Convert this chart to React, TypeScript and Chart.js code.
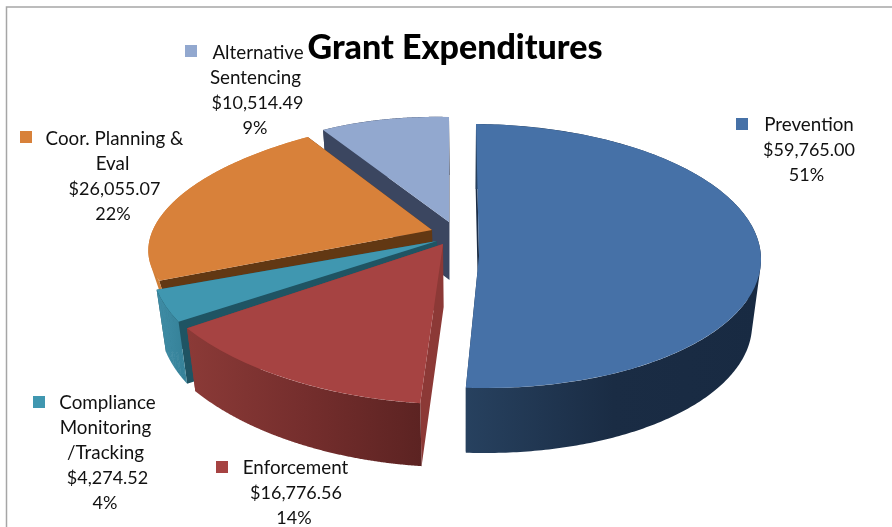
import React, { useEffect, useRef } from "react";
import { Chart, registerables } from "chart.js";

Chart.register(...registerables);

const categories = ["Prevention", "Enforcement", "Compliance Monitoring /Tracking", "Coor. Planning & Eval", "Alternative Sentencing"];
const values = [59765.0, 16776.56, 4274.52, 26055.07, 10514.49];
const valueLabels = ["$59,765.00", "$16,776.56", "$4,274.52", "$26,055.07", "$10,514.49"];
const percentLabels = ["51%", "14%", "4%", "22%", "9%"];
const titleText = "Grant Expenditures";

const topColors = ["#4671A7", "#A64342", "#4097B0", "#D8813A", "#92A8CF"];
const wallColors = ["#1B2D46", "#8C3936", "#1F5463", "#623813", "#3B4660"];
const sideColors = [["#27415F", "#1A2C44", "#182A42"], ["#8B3A37", "#752E2D", "#5C2322"], ["#3F8DA6", "#3A879F", "#348097"], ["#CF7E36", "#CF7E36", "#CF7E36"], ["#3B4660", "#3B4660", "#3B4660"]];

// per-slice view of the unit pie: [a, b, c, d, e, f] canvas transform, and extrusion depth
const views = [
  [282, 2, 3, 132, 479, 256, 65],
  [310, 10, -5, 160, 443, 244, 63],
  [284, 10, -46, 154, 437, 241, 62],
  [282, -8, -31, 115, 432, 230, 28],
  [236, 6, 0, 105, 449, 222, 58],
];
const paintOrder = [4, 3, 0, 2, 1];
const vanishX = 465;
const shrink = 0.03;

// label blocks: word lines, then value lines; each centred on its x, first baseline y, marker x,y
const labelLayout = [
  { words: ["Prevention"], xs: [809, 809, 806.5], y: 131, mx: 736, my: 118 },
  { words: ["Enforcement"], xs: [295.5, 296, 294], y: 474, mx: 216, my: 461 },
  { words: ["Compliance", "Monitoring", "/Tracking"], xs: [107.5, 105.5, 105.5, 107.5, 105], y: 409, mx: 33, my: 396 },
  { words: ["Coor. Planning &", "Eval"], xs: [114.5, 112.5, 114.5, 113], y: 145, mx: 20, my: 131 },
  { words: ["Alternative", "Sentencing"], xs: [258, 255.5, 257.5, 255], y: 59, mx: 185, my: 45 },
];

const pie3d = {
  id: "pie3d",
  beforeDraw(chart: any) {
    const { ctx } = chart;
    ctx.save();
    ctx.strokeStyle = "#A6A6A6";
    ctx.lineWidth = 1.5;
    ctx.beginPath();
    ctx.moveTo(6.5, 527);
    ctx.lineTo(6.5, 7);
    ctx.lineTo(892, 7);
    ctx.stroke();
    ctx.restore();
  },
  beforeDatasetDraw(chart: any) {
    const { ctx } = chart;
    const els = chart.getDatasetMeta(0).data;
    const project = (i: number, angle: number, r: number, t: number) => {
      const v = views[i];
      const u = Math.cos(angle) * r;
      const w = Math.sin(angle) * r;
      const x = v[0] * u + v[2] * w + v[4];
      const y = v[1] * u + v[3] * w + v[5];
      return [vanishX + (x - vanishX) * (1 - shrink * t), y + v[6] * t];
    };
    const addPoly = (pts: number[][]) => {
      let area = 0;
      pts.forEach((p, k) => {
        const q = pts[(k + 1) % pts.length];
        area += p[0] * q[1] - q[0] * p[1];
      });
      const ordered = area < 0 ? pts.slice().reverse() : pts;
      ordered.forEach((p, k) => (k ? ctx.lineTo(p[0], p[1]) : ctx.moveTo(p[0], p[1])));
      ctx.closePath();
    };
    paintOrder.forEach((i) => {
      const el = els[i];
      const { startAngle: s, endAngle: e } = el;
      ctx.fillStyle = wallColors[i];
      ctx.beginPath();
      [s, e].forEach((ang: number) =>
        addPoly([project(i, ang, 0, 0), project(i, ang, 1, 0), project(i, ang, 1, 1), project(i, ang, 0, 1)])
      );
      ctx.fill();
      const n = 240;
      const top: number[][] = [];
      const bottom: number[][] = [];
      for (let k = 0; k <= n; k++) {
        const a = s + ((e - s) * k) / n;
        top.push(project(i, a, 1, 0));
        bottom.push(project(i, a, 1, 1));
      }
      const xs = top.concat(bottom).map((p) => p[0]);
      const grad = ctx.createLinearGradient(Math.min(...xs), 0, Math.max(...xs), 0);
      const c = sideColors[i];
      grad.addColorStop(0, c[0]);
      grad.addColorStop(0.5, c[1]);
      grad.addColorStop(1, c[2]);
      ctx.fillStyle = grad;
      ctx.beginPath();
      for (let k = 0; k < n; k++) {
        addPoly([top[k], top[k + 1], bottom[k + 1], bottom[k]]);
      }
      ctx.fill();
    });
    paintOrder.forEach((i) => {
      const el = els[i];
      const v = views[i];
      const R = el.outerRadius;
      ctx.save();
      ctx.transform(v[0] / R, v[1] / R, v[2] / R, v[3] / R, v[4], v[5]);
      ctx.translate(-el.x, -el.y);
      el.draw(ctx);
      ctx.restore();
    });
    return false;
  },
  afterDraw(chart: any) {
    const { ctx } = chart;
    ctx.save();
    ctx.textAlign = "center";
    ctx.textBaseline = "alphabetic";
    labelLayout.forEach((b, i) => {
      ctx.fillStyle = topColors[i];
      ctx.fillRect(b.mx, b.my, 12, 12);
      ctx.fillStyle = "#111111";
      ctx.font = "18.8px Lato";
      b.words.forEach((t, k) => ctx.fillText(t, b.xs[k], b.y + k * 25));
      ctx.font = "18px Lato";
      const w = b.words.length;
      ctx.fillText(valueLabels[i], b.xs[w], b.y + w * 25);
      ctx.fillText(percentLabels[i], b.xs[w + 1], b.y + (w + 1) * 25);
    });
    ctx.restore();
  },
};

export default function App() {
  const ref = useRef<HTMLCanvasElement | null>(null);
  useEffect(() => {
    document.body.style.margin = "0";
    const chart = new Chart(ref.current as HTMLCanvasElement, {
      type: "pie",
      data: {
        labels: categories,
        datasets: [{ data: values, backgroundColor: topColors, borderWidth: 0 }],
      },
      options: {
        responsive: false,
        animation: false,
        layout: { padding: { left: 18, right: 0, top: 0, bottom: 0 } },
        plugins: {
          legend: { display: false },
          tooltip: { enabled: false },
          title: {
            display: true,
            text: titleText,
            color: "#000000",
            font: { family: "Lato", size: 34, weight: "900" },
            padding: { top: 28, bottom: 0 },
          },
        },
      },
      plugins: [pie3d],
    } as any);
    return () => chart.destroy();
  }, []);
  return <canvas ref={ref} width={892} height={527} style={{ display: "block", width: 892, height: 527 }} />;
}
